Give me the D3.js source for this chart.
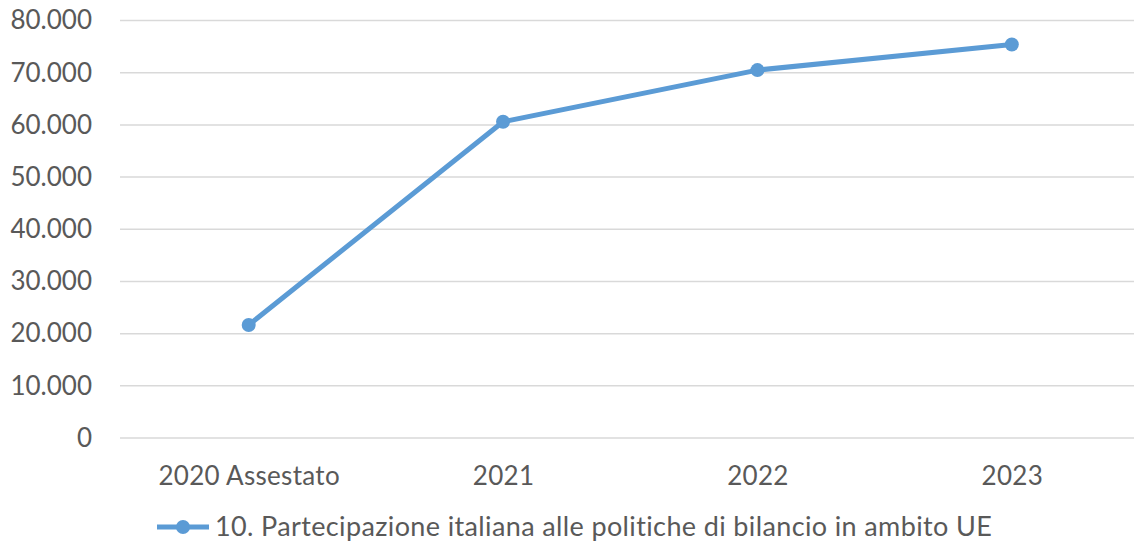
<!DOCTYPE html>
<html>
<head>
<meta charset="utf-8">
<script src="https://cdn.jsdelivr.net/npm/d3@7"></script>
<style>
  body { margin: 0; background: #fff; }
  text { font-family: Lato, "Liberation Sans", sans-serif; fill: #595959; }
</style>
</head>
<body>
<script>
var width = 1134;
var height = 547;

var categories = ["2020 Assestato", "2021", "2022", "2023"];
var values = [21650, 60600, 70500, 75400];
var yTicks = [0, 10000, 20000, 30000, 40000, 50000, 60000, 70000, 80000];
var seriesName = "10. Partecipazione italiana alle politiche di bilancio in ambito UE";

var blue = "#5b9bd5";

var it = d3.formatLocale({ decimal: ",", thousands: ".", grouping: [3], currency: ["€", ""] });
var fmt = it.format(",");

var svg = d3.select("body")
    .append("svg")
    .attr("width", width)
    .attr("height", height);

var x = d3.scalePoint()
    .domain(categories)
    .range([121.5, 1139])
    .padding(0.5);

var y = d3.scaleLinear()
    .domain([0, 80000])
    .range([438, 20.5]);

// grid
svg.append("g")
    .selectAll("line")
    .data(yTicks)
    .enter()
    .append("line")
    .attr("x1", 120)
    .attr("x2", width)
    .attr("y1", (d) => y(d))
    .attr("y2", (d) => y(d))
    .attr("stroke", "#d9d9d9")
    .attr("stroke-width", 1.5);

// y labels
var yAxis = d3.axisLeft(y).tickValues(yTicks).tickFormat(fmt).tickSize(0).tickPadding(0);
svg.append("g")
    .attr("transform", "translate(92,0)")
    .call(yAxis)
    .call((g) => g.select(".domain").remove())
    .selectAll("text")
    .attr("font-size", 26)
    .attr("fill", "#595959")
    .attr("font-family", "Lato, 'Liberation Sans', sans-serif");

// x labels
var xAxis = d3.axisBottom(x).tickSize(0).tickPadding(0);
svg.append("g")
    .attr("transform", "translate(0,467)")
    .call(xAxis)
    .call((g) => g.select(".domain").remove())
    .selectAll("text")
    .attr("font-size", 26)
    .attr("letter-spacing", 0.3)
    .attr("fill", "#595959")
    .attr("font-family", "Lato, 'Liberation Sans', sans-serif");

// series
var line = d3.line()
    .x((d, i) => x(categories[i]))
    .y((d) => y(d));

svg.append("path")
    .datum(values)
    .attr("d", line)
    .attr("fill", "none")
    .attr("stroke", blue)
    .attr("stroke-width", 5)
    .attr("stroke-linejoin", "round");

svg.selectAll("circle.pt")
    .data(values)
    .enter()
    .append("circle")
    .attr("class", "pt")
    .attr("cx", (d, i) => x(categories[i]))
    .attr("cy", (d) => y(d))
    .attr("r", 7)
    .attr("fill", blue);

// legend
var legend = svg.append("g").attr("transform", "translate(157,527)");
legend.append("line")
    .attr("x1", 0).attr("x2", 52)
    .attr("stroke", blue)
    .attr("stroke-width", 5);
legend.append("circle")
    .attr("cx", 26)
    .attr("r", 7)
    .attr("fill", blue);
legend.append("text")
    .attr("x", 58)
    .attr("y", 9)
    .attr("font-size", 27)
    .attr("letter-spacing", 0.37)
    .text(seriesName);
</script>
</body>
</html>
